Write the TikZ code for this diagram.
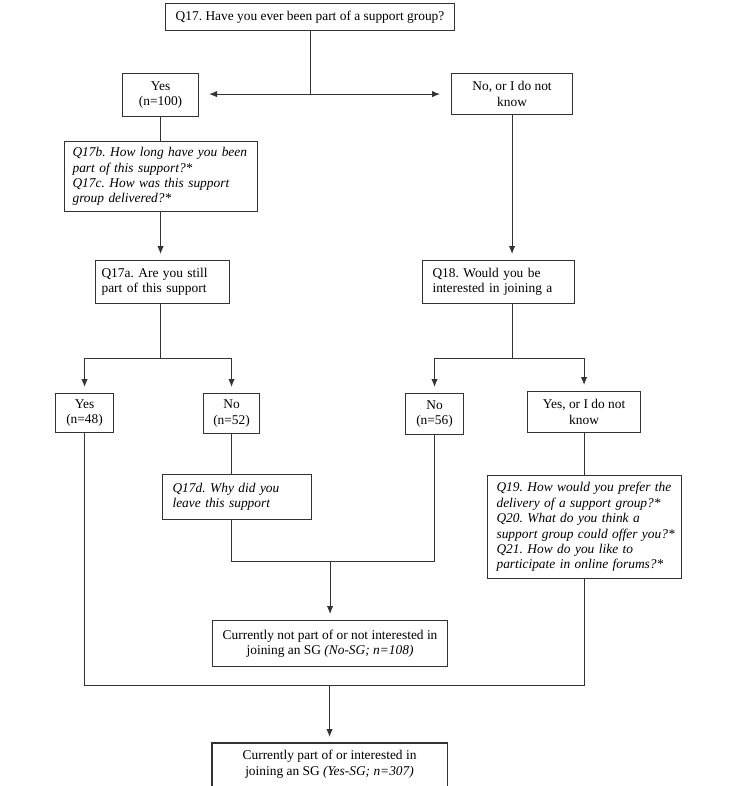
\documentclass[tikz,border=0pt]{standalone}
\usepackage{fontspec}
\setmainfont{Liberation Serif}
\usetikzlibrary{arrows.meta}
\begin{document}
\frenchspacing
\begin{tikzpicture}[x=1pt,y=-1pt,
  every node/.style={font=\fontsize{13.4}{15.4}\selectfont, text=black},
  box/.style={draw=black!80, line width=1.1pt, inner sep=0pt, align=center, anchor=north west},
  lbox/.style={box, align=left},
  ln/.style={draw=black!80, line width=1.1pt},
  arr/.style={ln, -{Latex[length=8pt,width=6.5pt]}, shorten >=6pt}]
\useasboundingbox (0,0) rectangle (733,786);

% nodes
\node[box, minimum width=289pt, minimum height=27pt] (q17) at (165,3) {Q17. Have you ever been part of a support group?};
\node[box, minimum width=76pt, minimum height=43pt] (yes1) at (122,73) {Yes\\(n=100)};
\node[box, minimum width=121pt, minimum height=41pt] (noknow) at (451,73) {No, or I do not\\know};
\node[lbox, minimum width=193pt, minimum height=70pt, text width=177pt] (q17b) at (64,141)
  {\itshape \mbox{Q17b. How long have you been}\\\mbox{part of this support?*}\\\mbox{Q17c. How was this support}\\\mbox{group delivered?*}};
\node[lbox, minimum width=134pt, minimum height=43pt, text width=122pt] (q17a) at (95,260)
  {\mbox{Q17a. Are you still}\\\mbox{part of this support}};
\node[lbox, minimum width=152pt, minimum height=43pt, text width=132pt] (q18) at (422,260)
  {\mbox{Q18. Would you be}\\\mbox{interested in joining a}};
\node[box, minimum width=58pt, minimum height=39pt] (yes48) at (55,393) {Yes\\(n=48)};
\node[box, minimum width=56pt, minimum height=40pt] (no52) at (203,393) {No\\(n=52)};
\node[box, minimum width=58pt, minimum height=41pt] (no56) at (405,393) {No\\(n=56)};
\node[box, minimum width=113pt, minimum height=41pt] (yesknow) at (527,391) {Yes, or I do not\\know};
\node[lbox, minimum width=149pt, minimum height=45pt, text width=129pt] (q17d) at (162,474)
  {\itshape \mbox{Q17d. Why did you}\\\mbox{leave this support}};
\node[lbox, minimum width=194pt, minimum height=103pt, text width=176pt] (q19) at (487,475)
  {\itshape \mbox{Q19. How would you prefer the}\\\mbox{delivery of a support group?*}\\\mbox{Q20. What do you think a}\\\mbox{support group could offer you?*}\\\mbox{Q21. How do you like to}\\\mbox{participate in online forums?*}};
\node[box, minimum width=235pt, minimum height=46pt] (nosg) at (212,620)
  {Currently not part of or not interested in\\joining an SG \textit{(No-SG; n=108)}};
\node[box, draw=none, minimum width=234pt, minimum height=41pt] (yessg) at (212,743)
  {Currently part of or interested in\\joining an SG \textit{(Yes-SG; n=307)}};
\draw[ln] ([yshift=-20pt]yessg.south west) -- (yessg.north west) -- (yessg.north east) -- ([yshift=-20pt]yessg.south east);

% connectors
\path (q17.south) ++(0,63) coordinate (j1);
\draw[ln] (q17.south) -- (j1);
\draw[arr, shorten >=10pt] (j1) -- (j1 -| yes1.east);
\draw[arr, shorten >=11pt] (j1) -- (j1 -| noknow.west);

\draw[ln] (yes1.south) -- (yes1.south |- q17b.north);
\draw[arr] (yes1.south |- q17b.south) -- (yes1.south |- q17a.north);
\path (yes1.south |- q17a.south) ++(0,54) coordinate (j2);
\draw[ln] (yes1.south |- q17a.south) -- (j2);
\draw[arr] (j2) -| (yes48.north);
\draw[arr] (j2) -| (no52.north);

\draw[arr] (noknow.south) -- (noknow.south |- q18.north);
\path (noknow.south |- q18.south) ++(0,54) coordinate (j3);
\draw[ln] (noknow.south |- q18.south) -- (j3);
\draw[arr] (j3) -| (no56.north);
\draw[arr] (j3) -| (yesknow.north);

\draw[ln] (no52.south) -- (no52.south |- q17d.north);
\path (no52.south |- q17d.south) ++(0,41) coordinate (j4);
\draw[ln] (no52.south |- q17d.south) -- (j4) -| (no56.south);
\draw[arr] (j4 -| nosg.north) -- (nosg.north);

\draw[ln] (yesknow.south) -- (yesknow.south |- q19.north);
\path (yes48.south |- nosg.south) ++(0,18) coordinate (j5);
\draw[ln] (yes48.south) -- (j5) -| (q19.south);
\draw[arr] (j5 -| yessg.north) -- (yessg.north);
\end{tikzpicture}
\end{document}
